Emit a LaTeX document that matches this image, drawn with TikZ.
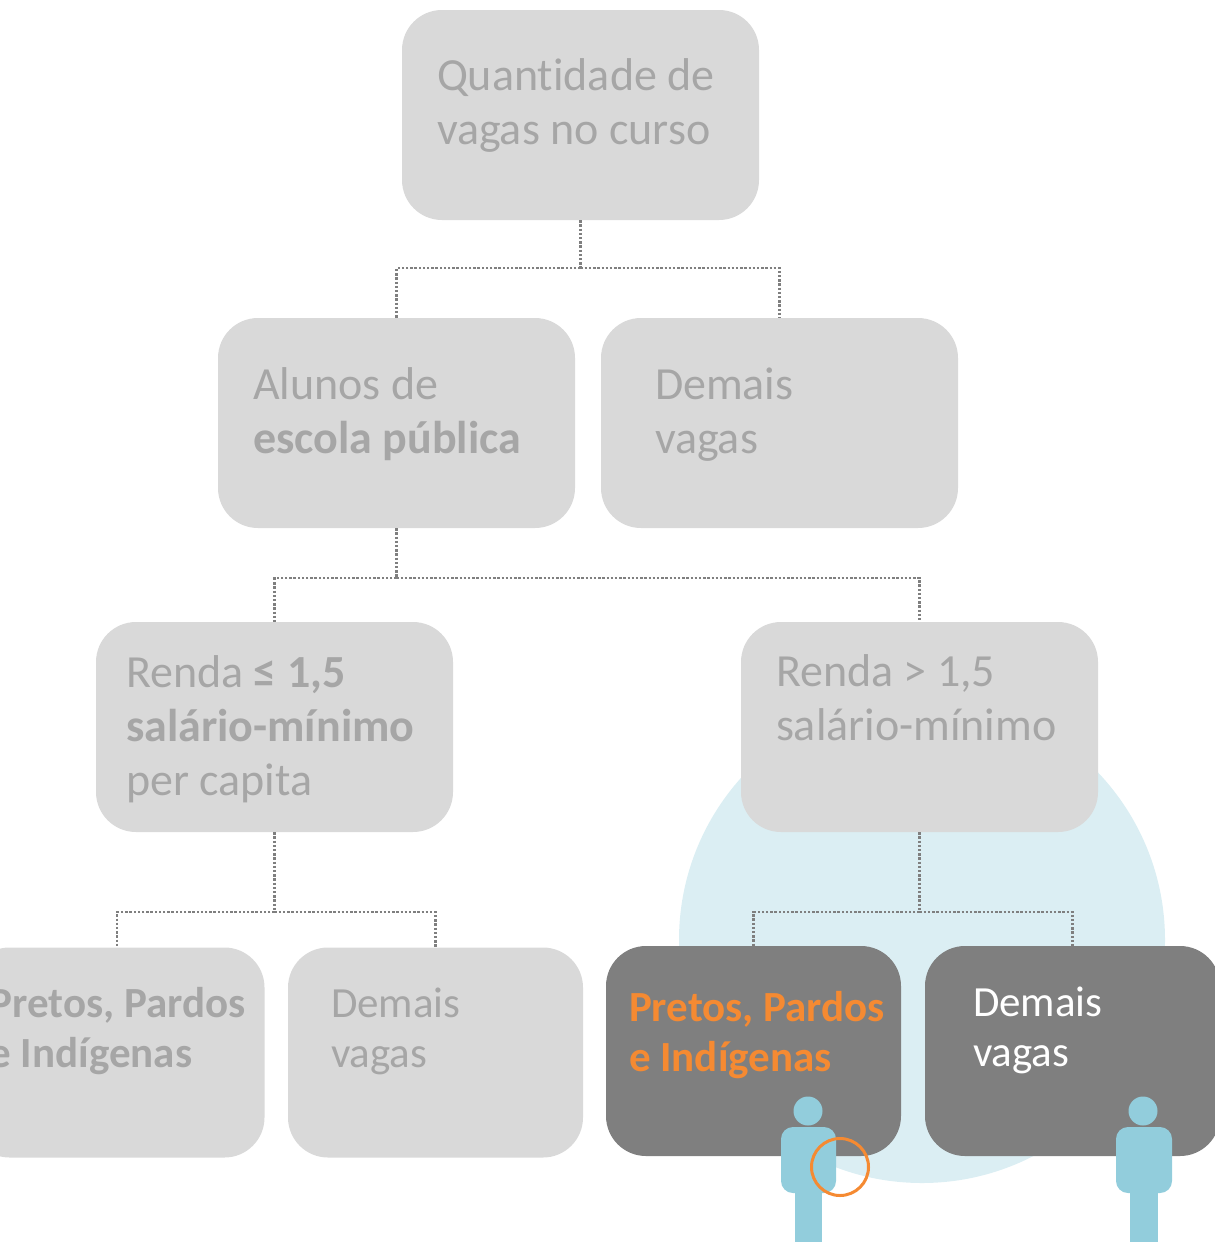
\documentclass[tikz,border=0pt]{standalone}
\usepackage{fontspec}
\setmainfont[Ligatures=NoCommon]{Carlito}
\usetikzlibrary{positioning}

\definecolor{boxgray}{HTML}{D9D9D9}
\definecolor{txtgray}{HTML}{A6A6A6}
\definecolor{darkgray}{HTML}{7F7F7F}
\definecolor{palecyan}{HTML}{DBEEF3}
\definecolor{personblue}{HTML}{92CDDC}
\definecolor{markorange}{HTML}{F58A32}

\newcommand{\bigsize}{\fontsize{46}{54}\selectfont}
\newcommand{\smallsize}{\fontsize{43}{50}\selectfont}

\begin{document}
\begin{tikzpicture}[
    x=1pt, y=-1pt,
    lightbox/.style={rectangle, rounded corners=40pt, fill=boxgray, minimum width=357pt, minimum height=210pt, inner sep=0pt},
    darkbox/.style={rectangle, rounded corners=40pt, fill=darkgray, minimum width=295pt, minimum height=210pt, inner sep=0pt},
    smallbox/.style={darkbox, fill=boxgray},
    bigtxt/.style={anchor=north west, inner sep=0pt, align=left, text=txtgray, font=\bigsize, execute at begin node={\bigsize\strut}},
    smalltxt/.style={bigtxt, font=\smallsize, execute at begin node={\smallsize\strut}},
    dotline/.style={draw=darkgray, line width=2.4pt, dash pattern=on 2.4pt off 1.8pt},
    person/.style={fill=personblue}
]

\useasboundingbox (0,0) rectangle (1215,1242);

% light circle behind the right branch
\fill[palecyan] (922,940) circle (243);

\node[lightbox] (Q) at (580.5,115) {};
\node[lightbox] (P) at (396.5,423) {};
\node[lightbox] (D1) at (779.5,423) {};
\node[lightbox] (R1) at (274.5,727) {};
\node[lightbox] (R2) at (919.5,727) {};
\node[smallbox] (E1) at (117,1052.5) {};
\node[smallbox] (E2) at (435.5,1052.5) {};
\node[darkbox] (E3) at (753.5,1051) {};
\node[darkbox] (E4) at (1072.5,1051) {};

\node[bigtxt] (tQ) at ([shift={(35,49)}]Q.north west) {Quantidade de\\vagas no curso};
\node[bigtxt] (tP) at ([shift={(35,50)}]P.north west) {Alunos de\\\textbf{escola pública}};
\node[bigtxt] (tD1) at ([shift={(54,50)}]D1.north west) {Demais\\vagas};
\node[bigtxt] (tR1) at ([shift={(30,34)}]R1.north west) {Renda \textbf{≤ 1,5}\\\textbf{salário-mínimo}\\per capita};
\node[bigtxt] (tR2) at ([shift={(35,33)}]R2.north west) {Renda > 1,5\\salário-mínimo};
\node[smalltxt] (tE1) at ([shift={(20,40)}]E1.north west) {\textbf{Pretos, Pardos}\\\textbf{e Indígenas}};
\node[smalltxt] (tE2) at ([shift={(43,40)}]E2.north west) {Demais\\vagas};
\node[smalltxt, text=markorange] (tE3) at ([shift={(23,45)}]E3.north west) {\textbf{Pretos, Pardos}\\\textbf{e Indígenas}};
\node[smalltxt, text=white] (tE4) at ([shift={(48,41)}]E4.north west) {Demais\\vagas};

% connectors
\draw[dotline] (Q.south) -- ++(0,48) coordinate (j1);
\draw[dotline] (j1) -| (P.north);
\draw[dotline] (j1) -| (D1.north);
\draw[dotline] (P.south) -- ++(0,50) coordinate (j2);
\draw[dotline] (j2) -| (R1.north);
\draw[dotline] (j2) -| (R2.north);
\draw[dotline] (R1.south) -- ++(0,80) coordinate (j3);
\draw[dotline] (j3) -| (E1.north);
\draw[dotline] (j3) -| (E2.north);
\draw[dotline] (R2.south) -- ++(0,80) coordinate (j4);
\draw[dotline] (j4) -| (E3.north);
\draw[dotline] (j4) -| (E4.north);

% persons
\fill[person] (808,1111) circle (14.5);
\fill[person, rounded corners=12pt] (781,1127) rectangle (836,1193);
\fill[person] (795,1185) rectangle (822,1242);
\fill[person] (1143,1111) circle (14.5);
\fill[person, rounded corners=12pt] (1116,1127) rectangle (1172,1193);
\fill[person] (1130,1185) rectangle (1158,1242);

\draw[markorange, line width=3pt] (840,1167) circle (28.5);

\end{tikzpicture}
\end{document}
